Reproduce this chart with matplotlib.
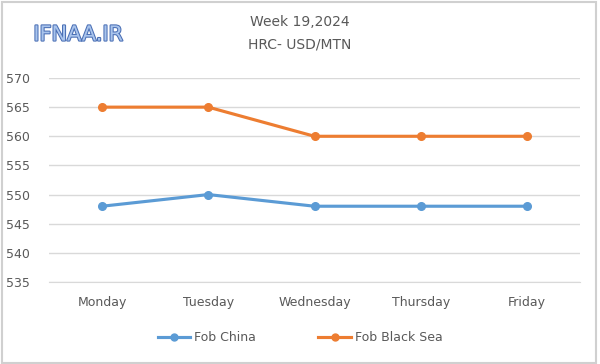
import matplotlib.pyplot as plt
import matplotlib.patheffects as pe
from matplotlib.lines import Line2D
from matplotlib.patches import Rectangle

days = ['Monday', 'Tuesday', 'Wednesday', 'Thursday', 'Friday']
fob_china = [548, 550, 548, 548, 548]
fob_black_sea = [565, 565, 560, 560, 560]
yticks = [535, 540, 545, 550, 555, 560, 565, 570]

fig = plt.figure(figsize=(6, 3.64), dpi=100)
ax = fig.add_axes([0.0817, 0.2253, 0.885, 0.5604])

x = range(len(days))
ax.plot(x, fob_china, color='#5B9BD5', lw=2.25, marker='o', ms=5.5, label='Fob China')
ax.plot(x, fob_black_sea, color='#ED7D31', lw=2.25, marker='o', ms=5.5, label='Fob Black Sea')

ax.set_xlim(-0.5, 4.5)
ax.set_ylim(535, 570)
ax.set_yticks(yticks)
ax.set_xticks(list(x))
ax.set_xticklabels(days)
ax.grid(axis='y', color='#D9D9D9', lw=1)
ax.set_axisbelow(True)
for s in ['top', 'right', 'left']:
    ax.spines[s].set_visible(False)
ax.spines['bottom'].set_color('#D9D9D9')
ax.tick_params(length=0, labelsize=9, colors='#595959')
ax.tick_params(axis='x', pad=10)
ax.tick_params(axis='y', pad=14)

fig.text(0.5, 0.94, 'Week 19,2024', ha='center', va='center', fontsize=10, color='#595959')
fig.text(0.5, 0.877, 'HRC- USD/MTN', ha='center', va='center', fontsize=10, color='#595959')

fig.text(0.13, 0.905, 'IFNAA.IR', ha='center', va='center', fontsize=15, color='#A9C4EC',
         path_effects=[pe.withStroke(linewidth=1.5, foreground='#4A6FB5')])

handles = [Line2D([], [], color='#5B9BD5', lw=2.25, marker='o', ms=5),
           Line2D([], [], color='#ED7D31', lw=2.25, marker='o', ms=5)]
fig.legend(handles, ['Fob China', 'Fob Black Sea'], loc='center', bbox_to_anchor=(0.5, 0.072),
           ncol=2, frameon=False, fontsize=9, labelcolor='#595959', columnspacing=5,
           handlelength=2.6, handletextpad=0.3)

fig.patches.append(Rectangle((0.003, 0.004), 0.99, 0.99, transform=fig.transFigure,
                             fill=False, edgecolor='#D0D0D0', lw=1.5))

fig.savefig('out.png', dpi=100)
